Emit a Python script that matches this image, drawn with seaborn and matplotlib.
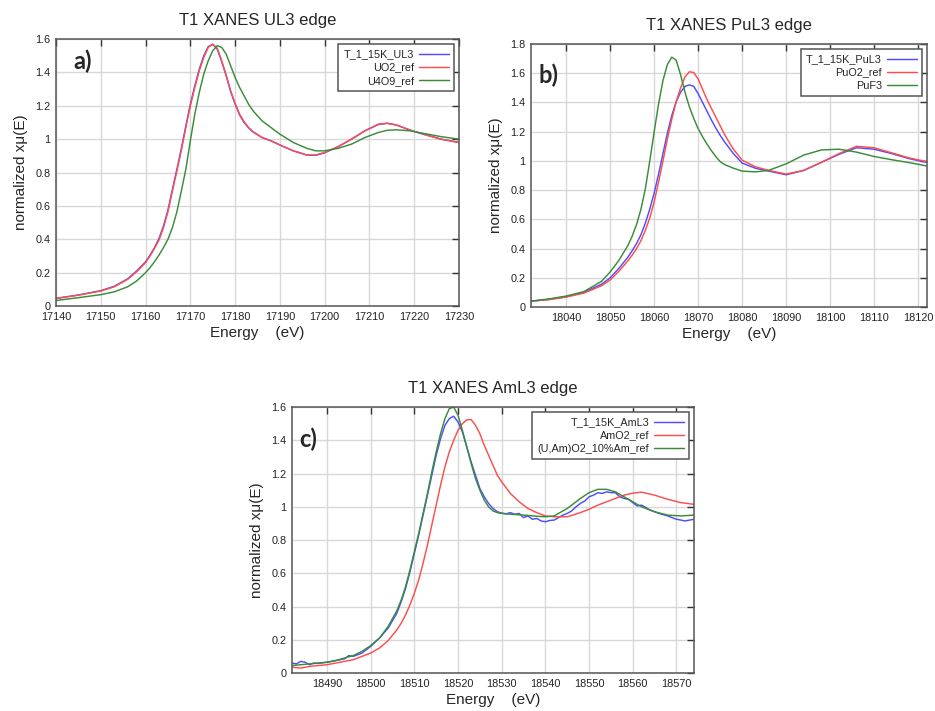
import matplotlib
matplotlib.use("Agg")
import matplotlib.pyplot as plt
from matplotlib.ticker import FuncFormatter, MultipleLocator
import seaborn as sns

# ---- panel a) U L3 edge ----
e_u = [17140, 17145, 17150, 17153, 17156, 17158, 17160, 17161, 17162, 17163, 17164,
       17165, 17166, 17167, 17168, 17169, 17170, 17171, 17172, 17173, 17174, 17175,
       17176, 17177, 17178, 17179, 17180, 17181, 17182, 17183, 17184, 17186, 17188,
       17190, 17193, 17196, 17198, 17200, 17203, 17206, 17209, 17212, 17214, 17216,
       17219, 17222, 17226, 17230]
t1_ul3 = [0.046, 0.066, 0.092, 0.118, 0.163, 0.21, 0.265, 0.305, 0.35, 0.405, 0.48,
          0.575, 0.7, 0.82, 0.945, 1.08, 1.21, 1.32, 1.42, 1.5, 1.555, 1.568,
          1.54, 1.465, 1.38, 1.285, 1.21, 1.145, 1.1, 1.068, 1.043, 1.01, 0.99,
          0.965, 0.93, 0.905, 0.903, 0.918, 0.955, 1.0, 1.05, 1.088, 1.095, 1.085,
          1.055, 1.03, 1.0, 0.98]
uo2_ref = [0.045, 0.065, 0.09, 0.115, 0.16, 0.205, 0.26, 0.3, 0.345, 0.395, 0.47,
           0.565, 0.69, 0.81, 0.935, 1.07, 1.2, 1.31, 1.41, 1.49, 1.55, 1.57,
           1.545, 1.47, 1.385, 1.29, 1.215, 1.15, 1.105, 1.07, 1.045, 1.01, 0.99,
           0.965, 0.93, 0.905, 0.905, 0.92, 0.955, 1.0, 1.05, 1.09, 1.095, 1.085,
           1.055, 1.03, 1.0, 0.98]
u4o9_ref = [0.033, 0.05, 0.068, 0.085, 0.115, 0.15, 0.2, 0.23, 0.265, 0.305, 0.35,
            0.4, 0.47, 0.565, 0.69, 0.82, 0.99, 1.15, 1.28, 1.39, 1.47, 1.53,
            1.56, 1.55, 1.51, 1.44, 1.37, 1.31, 1.26, 1.21, 1.17, 1.11, 1.07,
            1.03, 0.98, 0.945, 0.93, 0.93, 0.945, 0.97, 1.01, 1.04, 1.053, 1.056,
            1.05, 1.035, 1.015, 1.0]

# ---- panel b) Pu L3 edge ----
e_pu = [18032, 18036, 18040, 18044, 18048, 18050, 18052, 18054, 18055, 18056, 18057,
        18058, 18059, 18060, 18061, 18062, 18063, 18064, 18065, 18066, 18067, 18068,
        18069, 18070, 18071, 18072, 18073, 18074, 18075, 18076, 18078, 18080, 18083,
        18086, 18090, 18094, 18098, 18102, 18106, 18110, 18114, 18118, 18122]
t1_pul3 = [0.04, 0.052, 0.07, 0.1, 0.155, 0.2, 0.265, 0.34, 0.385, 0.435, 0.495,
           0.575, 0.67, 0.78, 0.91, 1.05, 1.19, 1.31, 1.405, 1.47, 1.51, 1.52,
           1.51, 1.46, 1.4, 1.34, 1.28, 1.225, 1.175, 1.13, 1.05, 0.985, 0.95,
           0.93, 0.905, 0.935, 0.99, 1.045, 1.09, 1.08, 1.05, 1.015, 0.99]
puo2_ref = [0.04, 0.05, 0.068, 0.095, 0.145, 0.185, 0.245, 0.315, 0.355, 0.4, 0.455,
            0.525, 0.61, 0.72, 0.855, 1.0, 1.15, 1.285, 1.405, 1.5, 1.575, 1.61,
            1.605, 1.56, 1.49, 1.42, 1.36, 1.3, 1.24, 1.18, 1.08, 1.005, 0.96,
            0.935, 0.91, 0.935, 0.99, 1.05, 1.1, 1.09, 1.055, 1.02, 0.995]
puf3 = [0.04, 0.055, 0.075, 0.105, 0.175, 0.24, 0.32, 0.42, 0.485, 0.565, 0.67,
        0.81, 1.0, 1.2, 1.39, 1.55, 1.66, 1.71, 1.69, 1.59, 1.47, 1.37,
        1.29, 1.22, 1.165, 1.115, 1.07, 1.03, 0.995, 0.975, 0.95, 0.93, 0.925,
        0.935, 0.98, 1.04, 1.075, 1.08, 1.06, 1.03, 1.008, 0.988, 0.965]

# ---- panel c) Am L3 edge ----
e_am = [18482, 18484, 18486, 18488, 18490, 18492, 18494, 18496, 18498, 18500, 18502,
        18504, 18506, 18507, 18508, 18509, 18510, 18511, 18512, 18513, 18514, 18515,
        18516, 18517, 18518, 18519, 18520, 18521, 18522, 18523, 18524, 18525, 18526,
        18527, 18528, 18529, 18530, 18532, 18534, 18536, 18538, 18540, 18542, 18545,
        18548, 18550, 18552, 18554, 18556, 18558, 18560, 18562, 18565, 18568, 18571,
        18574]
amo2_ref = [0.035, 0.03, 0.04, 0.045, 0.05, 0.06, 0.07, 0.08, 0.1, 0.12, 0.15,
            0.195, 0.26, 0.3, 0.35, 0.41, 0.48, 0.56, 0.66, 0.77, 0.89, 1.01,
            1.13, 1.24, 1.33, 1.4, 1.46, 1.5, 1.523, 1.525, 1.49, 1.44, 1.37,
            1.31, 1.25, 1.19, 1.15, 1.08, 1.03, 0.99, 0.965, 0.945, 0.94, 0.94,
            0.965, 0.985, 1.01, 1.03, 1.05, 1.07, 1.082, 1.088, 1.07, 1.045, 1.025,
            1.015]
uamo2_ref = [0.045, 0.05, 0.055, 0.06, 0.065, 0.075, 0.09, 0.105, 0.13, 0.165, 0.21,
             0.28, 0.375, 0.44, 0.52, 0.62, 0.73, 0.84, 0.96, 1.08, 1.21, 1.33,
             1.44, 1.53, 1.59, 1.6, 1.55, 1.46, 1.36, 1.26, 1.17, 1.1, 1.04,
             1.0, 0.975, 0.965, 0.96, 0.955, 0.952, 0.948, 0.943, 0.94, 0.945, 0.99,
             1.05, 1.085, 1.105, 1.105, 1.09, 1.06, 1.03, 1.0, 0.97, 0.95, 0.945,
             0.95]
e_t1am = [18482, 18483, 18484, 18485, 18486, 18487, 18488, 18490, 18492, 18494, 18495,
          18496, 18497, 18498, 18500, 18502, 18504, 18506, 18507, 18508, 18509, 18510,
          18511, 18512, 18513, 18514, 18515, 18516, 18517, 18518, 18519, 18520, 18521,
          18522, 18523, 18524, 18525, 18526, 18527, 18528, 18529, 18530, 18531, 18532,
          18533, 18534, 18535, 18536, 18537, 18538, 18539, 18540, 18541, 18542, 18543,
          18544, 18545, 18546, 18547, 18548, 18549, 18550, 18551, 18552, 18553, 18554,
          18555, 18556, 18557, 18558, 18559, 18560, 18561, 18562, 18564, 18566, 18568,
          18570, 18572, 18574]
t1_aml3 = [0.06, 0.055, 0.07, 0.065, 0.05, 0.06, 0.058, 0.065, 0.075, 0.085, 0.105,
           0.1, 0.11, 0.12, 0.16, 0.21, 0.27, 0.36, 0.43, 0.51, 0.61, 0.72,
           0.83, 0.95, 1.07, 1.19, 1.31, 1.41, 1.49, 1.53, 1.545, 1.51, 1.45,
           1.36, 1.27, 1.19, 1.11, 1.06, 1.02, 0.99, 0.97, 0.962, 0.958, 0.965,
           0.955, 0.96, 0.935, 0.945, 0.925, 0.93, 0.915, 0.91, 0.918, 0.92, 0.935,
           0.95, 0.96, 0.975, 1.0, 1.02, 1.035, 1.06, 1.07, 1.085, 1.08, 1.09,
           1.085, 1.085, 1.06, 1.05, 1.045, 1.025, 1.005, 1.01, 0.98, 0.96, 0.945,
           0.925, 0.915, 0.925]

BLUE = "#4d4dff"
RED = "#ff4d4d"
GREEN = "#3a8c3a"

sns.set_style("white")
plt.rcParams["font.family"] = ["Liberation Sans", "DejaVu Sans"]


def gnu_fmt(v, pos):
    return "%g" % round(v, 3)


def style_axes(ax, xlim, ylim, title, tag, tag_xy):
    ax.set_xlim(*xlim)
    ax.set_ylim(*ylim)
    ax.xaxis.set_major_locator(MultipleLocator(10))
    ax.yaxis.set_major_locator(MultipleLocator(0.2))
    ax.yaxis.set_major_formatter(FuncFormatter(gnu_fmt))
    ax.grid(True, color="#d8d8d8", lw=1.0)
    ax.set_axisbelow(True)
    ax.tick_params(direction="in", length=5, width=1, colors="#333333",
                   top=True, right=True, labelsize=7.8, pad=4,
                   labelcolor="#222222")
    for sp in ax.spines.values():
        sp.set_color("#555555")
        sp.set_linewidth(1.1)
    ax.set_title(title, fontsize=12, pad=10)
    ax.set_xlabel("Energy    (eV)", fontsize=11, labelpad=3)
    ax.set_ylabel("normalized x\u03bc(E)", fontsize=11, labelpad=5)
    ax.text(tag_xy[0], tag_xy[1], tag, transform=ax.transAxes, fontsize=17,
            fontweight="bold", family=["Lato", "DejaVu Sans"],
            ha="center", va="center", zorder=5)
    leg = ax.legend(loc="upper right", markerfirst=False, fontsize=7.8,
                    frameon=True, fancybox=False, framealpha=1,
                    edgecolor="#555555", handlelength=2.7, handletextpad=0.5,
                    labelspacing=0.3, borderpad=0.5, borderaxespad=0.45)
    leg.get_frame().set_linewidth(1.1)


fig = plt.figure(figsize=(9.35, 7.11), dpi=100)
ax_a = fig.add_axes([0.0599, 0.5696, 0.4310, 0.3755])
ax_b = fig.add_axes([0.5679, 0.5682, 0.4235, 0.3699])
ax_c = fig.add_axes([0.3123, 0.0534, 0.4299, 0.3741])

lw = 1.05
sns.lineplot(x=e_u, y=t1_ul3, ax=ax_a, color=BLUE, lw=lw, label="T_1_15K_UL3", sort=False, estimator=None)
sns.lineplot(x=e_u, y=uo2_ref, ax=ax_a, color=RED, lw=lw, label="UO2_ref", sort=False, estimator=None)
sns.lineplot(x=e_u, y=u4o9_ref, ax=ax_a, color=GREEN, lw=lw, label="U4O9_ref", sort=False, estimator=None)
style_axes(ax_a, (17140, 17230), (0, 1.6), "T1 XANES UL3 edge", "a)", (0.065, 0.915))

sns.lineplot(x=e_pu, y=t1_pul3, ax=ax_b, color=BLUE, lw=lw, label="T_1_15K_PuL3", sort=False, estimator=None)
sns.lineplot(x=e_pu, y=puo2_ref, ax=ax_b, color=RED, lw=lw, label="PuO2_ref", sort=False, estimator=None)
sns.lineplot(x=e_pu, y=puf3, ax=ax_b, color=GREEN, lw=lw, label="PuF3", sort=False, estimator=None)
style_axes(ax_b, (18032, 18122), (0, 1.8), "T1 XANES PuL3 edge", "b)", (0.043, 0.882))

sns.lineplot(x=e_t1am, y=t1_aml3, ax=ax_c, color=BLUE, lw=lw, label="T_1_15K_AmL3", sort=False, estimator=None)
sns.lineplot(x=e_am, y=amo2_ref, ax=ax_c, color=RED, lw=lw, label="AmO2_ref", sort=False, estimator=None)
sns.lineplot(x=e_am, y=uamo2_ref, ax=ax_c, color=GREEN, lw=lw, label="(U,Am)O2_10%Am_ref", sort=False, estimator=None)
style_axes(ax_c, (18482, 18574), (0, 1.6), "T1 XANES AmL3 edge", "c)", (0.04, 0.88))

fig.savefig("out.png", dpi=100, facecolor="white")
plt.close(fig)
